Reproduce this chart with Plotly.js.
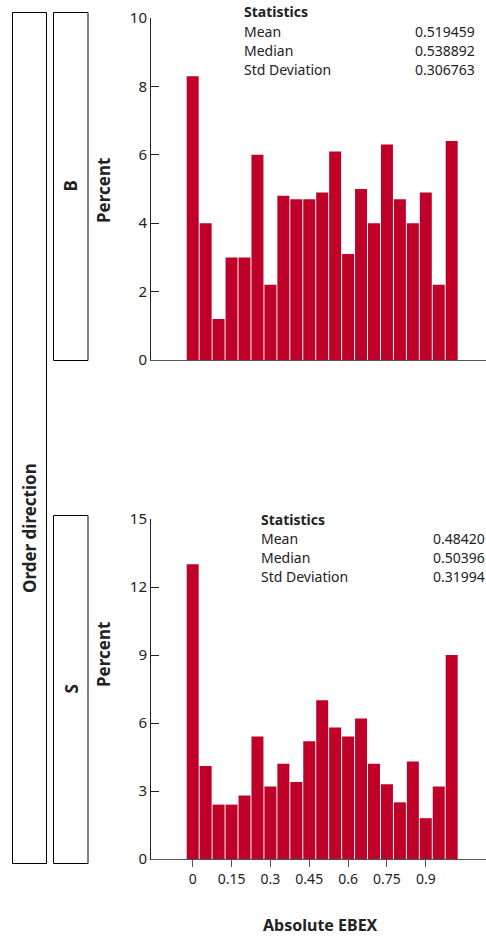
<!DOCTYPE html>
<html>
<head>
<meta charset="utf-8">
<script src="https://cdn.plot.ly/plotly-3.0.1.min.js"></script>
<style>html,body{margin:0;padding:0;background:#fff;}#chart{width:486px;height:937px;}</style>
</head>
<body>
<div id="chart"></div>
<script>
// ---- data ----
var binCenters = [0, 0.05, 0.1, 0.15, 0.2, 0.25, 0.3, 0.35, 0.4, 0.45, 0.5, 0.55, 0.6, 0.65, 0.7, 0.75, 0.8, 0.85, 0.9, 0.95, 1.0];
var percentB = [8.3, 4.0, 1.2, 3.0, 3.0, 6.0, 2.2, 4.8, 4.7, 4.7, 4.9, 6.1, 3.1, 5.0, 4.0, 6.3, 4.7, 4.0, 4.9, 2.2, 6.4];
var percentS = [13.0, 4.1, 2.4, 2.4, 2.8, 5.4, 3.2, 4.2, 3.4, 5.2, 7.0, 5.8, 5.4, 6.2, 4.2, 3.3, 2.5, 4.3, 1.8, 3.2, 9.0];
var xTickVals = [0, 0.15, 0.3, 0.45, 0.6, 0.75, 0.9];
var xTickText = ['0', '0.15', '0.3', '0.45', '0.6', '0.75', '0.9'];
var statLabels = ['Mean', 'Median', 'Std Deviation'];
var statsB = ['0.519459', '0.538892', '0.306763'];
var statsS = ['0.48420', '0.50396', '0.31994'];
var panelLabels = ['B', 'S'];

// ---- layout helpers (pixel -> paper) ----
var W = 486, H = 937, ML = 151, MR = 0, MT = 18, MB = 78;
var PW = W - ML - MR, PH = H - MT - MB;
function px(x) { return (x - ML) / PW; }
function py(y) { return (H - MB - y) / PH; }

var FONT = 'Noto Sans, Open Sans, sans-serif';
var barColor = '#BF0029';
var axisColor = '#555555';
var textColor = '#222222';

var traces = [
  {type: 'bar', x: binCenters, y: percentB, xaxis: 'x2', yaxis: 'y',
   marker: {color: barColor, line: {width: 0}}, hoverinfo: 'x+y', showlegend: false},
  {type: 'bar', x: binCenters, y: percentS, xaxis: 'x', yaxis: 'y2',
   marker: {color: barColor, line: {width: 0}}, hoverinfo: 'x+y', showlegend: false}
];

var xRange = [(151 - 192.7) / 259, (486 - 192.7) / 259];

var annotations = [];
function ann(text, x, y, opts) {
  var a = {text: text, xref: 'paper', yref: 'paper', x: x, y: y, showarrow: false,
           font: {family: FONT, size: 14, color: textColor}, xanchor: 'left', yanchor: 'middle'};
  for (var k in opts) a[k] = opts[k];
  annotations.push(a);
}
function statsBlock(vals, xl, xr, yTop) {
  ann('<b>Statistics</b>', px(xl), py(yTop), {});
  for (var i = 0; i < statLabels.length; i++) {
    ann(statLabels[i], px(xl), py(yTop + 19.3 * (i + 1)), {});
    ann(vals[i], px(xr), py(yTop + 19.3 * (i + 1)), {xanchor: 'right'});
  }
}
statsBlock(statsB, 242, 477, 12);
statsBlock(statsS, 259, 487, 519);

var boldFont = {family: FONT, size: 17, color: textColor};
ann('<b>Percent</b>', px(103), py(191), {textangle: -90, xanchor: 'center', font: boldFont});
ann('<b>Percent</b>', px(103), py(655), {textangle: -90, xanchor: 'center', font: boldFont});
ann('<b>' + panelLabels[0] + '</b>', px(70.5), py(186), {textangle: -90, xanchor: 'center', font: boldFont});
ann('<b>' + panelLabels[1] + '</b>', px(70.5), py(689), {textangle: -90, xanchor: 'center', font: boldFont});
ann('<b>Order direction</b>', px(29), py(528), {textangle: -90, xanchor: 'center', font: boldFont});
ann('<b>Absolute EBEX</b>', px(320), py(925), {xanchor: 'center', font: {family: FONT, size: 16, color: textColor}});

var boxLine = {color: '#000000', width: 1};
var shapes = [
  {type: 'rect', xref: 'paper', yref: 'paper', x0: px(12.5), x1: px(46.5), y0: py(12.5), y1: py(863.5), line: boxLine},
  {type: 'rect', xref: 'paper', yref: 'paper', x0: px(53.5), x1: px(88), y0: py(12.5), y1: py(360.5), line: boxLine},
  {type: 'rect', xref: 'paper', yref: 'paper', x0: px(53.5), x1: px(88), y0: py(515.5), y1: py(863.5), line: boxLine}
];

var tickFont = {family: FONT, size: 15, color: textColor};
var layout = {
  width: W, height: H,
  margin: {l: ML, r: MR, t: MT, b: MB, pad: 0},
  paper_bgcolor: '#ffffff', plot_bgcolor: '#ffffff',
  bargap: 0.075,
  showlegend: false,
  font: {family: FONT, color: textColor},
  xaxis: {domain: [0, 1], anchor: 'y2', range: xRange, tickvals: xTickVals, ticktext: xTickText,
          ticks: 'outside', ticklen: 7, tickcolor: axisColor, tickwidth: 1,
          showline: true, linecolor: axisColor, linewidth: 1, showgrid: false, zeroline: false,
          tickfont: {family: FONT, size: 14, color: textColor}, title: {text: ''}},
  xaxis2: {domain: [0, 1], anchor: 'y', matches: 'x', range: xRange, showticklabels: false, ticks: '',
           showline: true, linecolor: axisColor, linewidth: 1, showgrid: false, zeroline: false, title: {text: ''}},
  yaxis: {domain: [py(360), 1], anchor: 'x2', range: [0, 10], dtick: 2, tick0: 0,
          ticks: 'inside', ticklen: 8, tickcolor: '#222222', tickwidth: 1,
          showline: true, linecolor: '#222222', linewidth: 1, showgrid: false, zeroline: false,
          tickfont: tickFont, title: {text: ''}},
  yaxis2: {domain: [0, py(519)], anchor: 'x', range: [0, 15], dtick: 3, tick0: 0,
           ticks: 'inside', ticklen: 8, tickcolor: '#222222', tickwidth: 1,
           showline: true, linecolor: '#222222', linewidth: 1, showgrid: false, zeroline: false,
           tickfont: tickFont, title: {text: ''}},
  annotations: annotations,
  shapes: shapes
};

Plotly.newPlot('chart', traces, layout, {displayModeBar: false, staticPlot: true});
</script>
</body>
</html>
